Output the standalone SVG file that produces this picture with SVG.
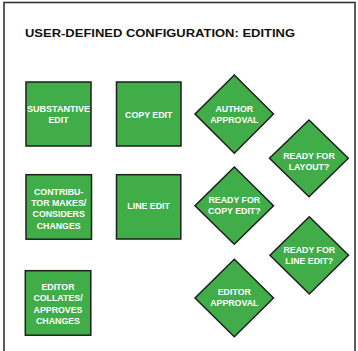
<svg xmlns="http://www.w3.org/2000/svg" width="358" height="351" viewBox="0 0 358 351">
<style>
.frame{fill:#fff;stroke:#333;stroke-width:1.6}
.box{fill:#41ad49;stroke:#1e1e1e;stroke-width:1.5}
.t{font-family:"Liberation Sans",Arial,sans-serif;font-weight:bold;font-size:8.8px;fill:#fff;text-anchor:middle}
.title{font-family:"Liberation Sans",Arial,sans-serif;font-weight:bold;font-size:11.2px;fill:#111}
</style>
<rect width="358" height="351" fill="#fff"/>
<rect class="frame" x="4" y="2.5" width="351" height="352"/>
<text class="title" x="25" y="36.7" textLength="270" lengthAdjust="spacingAndGlyphs">USER-DEFINED CONFIGURATION: EDITING</text>
<g id="connectors"></g>
<g id="substantive-edit">
<rect class="box" x="26" y="82" width="65" height="64"/>
<text class="t" x="58.5" y="112" textLength="63" lengthAdjust="spacingAndGlyphs">SUBSTANTIVE</text>
<text class="t" x="58.5" y="123.3">EDIT</text>
</g>
<g id="copy-edit">
<rect class="box" x="116.5" y="82" width="64.5" height="64"/>
<text class="t" x="148.7" y="118">COPY EDIT</text>
</g>
<g id="author-approval">
<polygon class="box" points="234.3,75 273.5,114 234.3,153.3 195,114"/>
<text class="t" x="234.3" y="111.5">AUTHOR</text>
<text class="t" x="234.3" y="123.3">APPROVAL</text>
</g>
<g id="ready-for-layout">
<polygon class="box" points="309,120 348.3,158.3 309,196.7 269.5,158.3"/>
<text class="t" x="309" y="158.7">READY FOR</text>
<text class="t" x="309" y="169.5">LAYOUT?</text>
</g>
<g id="contributor">
<rect class="box" x="26" y="174.7" width="65.5" height="64.5"/>
<text class="t" x="58.7" y="195">CONTRIBU-</text>
<text class="t" x="58.7" y="206">TOR MAKES/</text>
<text class="t" x="58.7" y="217.3">CONSIDERS</text>
<text class="t" x="58.7" y="228.5">CHANGES</text>
</g>
<g id="line-edit">
<rect class="box" x="116.5" y="174.7" width="64.3" height="64.3"/>
<text class="t" x="148.6" y="209">LINE EDIT</text>
</g>
<g id="ready-for-copy-edit">
<polygon class="box" points="234.3,167 273.5,205.7 234.3,244.3 195,205.7"/>
<text class="t" x="234.3" y="202.7">READY FOR</text>
<text class="t" x="234.3" y="214.3">COPY EDIT?</text>
</g>
<g id="ready-for-line-edit">
<polygon class="box" points="309.3,216.7 348.5,255.3 309.3,294 270,255.3"/>
<text class="t" x="309.3" y="252.7">READY FOR</text>
<text class="t" x="309.3" y="264">LINE EDIT?</text>
</g>
<g id="editor-collates">
<rect class="box" x="25.3" y="270.7" width="65.5" height="64.5"/>
<text class="t" x="58" y="290">EDITOR</text>
<text class="t" x="58" y="301.3">COLLATES/</text>
<text class="t" x="58" y="312.5">APPROVES</text>
<text class="t" x="58" y="323.5">CHANGES</text>
</g>
<g id="editor-approval">
<polygon class="box" points="234.3,259.3 273.5,298 234.3,336.7 195,298"/>
<text class="t" x="234.3" y="295">EDITOR</text>
<text class="t" x="234.3" y="306">APPROVAL</text>
</g>
</svg>
